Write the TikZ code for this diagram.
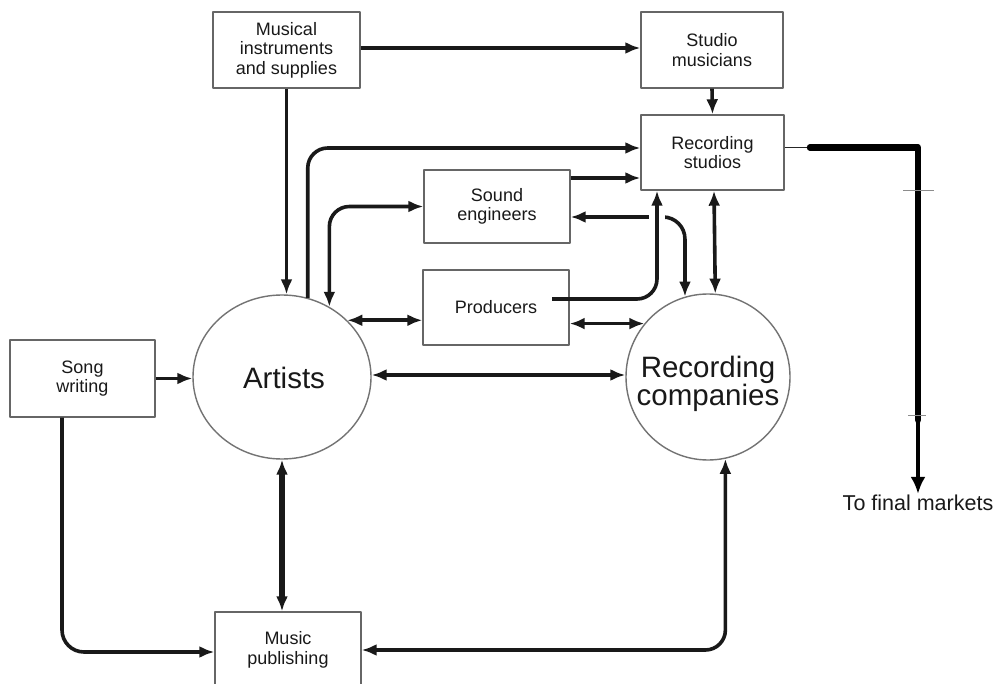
\documentclass[tikz,border=0pt]{standalone}
\usepackage{fontspec}
\setmainfont{Liberation Sans}
\usetikzlibrary{arrows.meta,shapes.geometric,calc}

\tikzset{
  box/.style={draw=black!60, line width=1.4pt, fill=white, align=center,
    minimum width=145pt, minimum height=75pt, inner sep=0pt,
    text=black!90, font=\fontsize{18}{19.5}\selectfont},
  hub/.style={draw=black!55, line width=1.4pt, fill=white, ellipse, inner sep=0pt},
  hubtext/.style={align=center, text=black!90, font=\fontsize{29.5}{28.5}\selectfont},
  tip/.tip={Latex[length=15pt,width=12pt]},
  flow/.style={draw=black!90, line width=3.6pt, -tip},
  both/.style={draw=black!90, line width=3.6pt, tip-tip},
  tick/.style={draw=black!45, line width=0.8pt}
}

\begin{document}
\begin{tikzpicture}[x=1pt,y=-1pt, line join=round]
\useasboundingbox (0,0) rectangle (998,684);
\clip (0,0) rectangle (998,684);
\fill[white] (0,0) rectangle (998,684);

% boxes
\node[box, minimum width=147pt, minimum height=76pt] (mus) at (286.5,50) {Musical\\instruments\\and supplies};
\node[box, minimum width=142pt, minimum height=76pt] (stm) at (712,50) {Studio\\musicians};
\node[box, minimum width=143pt] (rst) at (712.5,152.5) {Recording\\studios};
\node[box, minimum width=146pt, minimum height=73pt] (snd) at (497,206.5) {Sound\\engineers};
\node[box, minimum width=146pt] (prd) at (496,307.5) {Producers};
\node[box, minimum height=77pt] (song) at (82.5,378.5) {Song\\writing};
\node[box, minimum width=146pt, minimum height=76pt] (pub) at (288,650) {Music\\publishing};

% the two hubs
\node[hub, minimum width=178pt, minimum height=164pt] (art) at (282,377) {};
\node[hub, minimum width=164pt, minimum height=166pt] (rec) at (708,377) {};
\node[hubtext] (artt) at (284,378) {Artists};
\node[hubtext] (rect) at (708,384) {Recording\\companies};

% label at the end of the market line
\node[text=black!90, font=\fontsize{21.5}{24}\selectfont, inner sep=1pt] (fmk) at (918,503) {To final markets};

% supplies and studio musicians
\draw[flow] ($(mus.east)+(0,-2)$) -- ($(stm.west)+(0,-2)$);
\draw[flow] (stm.south) -- (rst.north);
\draw[flow] (mus.south) -- (mus.south |- art.north);

% artists to recording studios
\draw[flow, rounded corners=20pt] (art.72) |- ($(rst.west)+(0,-4.5)$);

% sound engineers to recording studios
\coordinate (p5) at ($(snd.east)+(0,-28.5)$);
\draw[flow] (p5) -- (p5 -| rst.west);

% artists and sound engineers
\draw[both, rounded corners=20pt] (snd.west) -| (art.56);

% artists and producers, producers and companies
\draw[both] (art.41.7) -- (art.41.7 -| prd.west);
\draw[both] (rec.140.6) -- (rec.140.6 -| prd.east);

% sound engineers and recording companies
\coordinate (p10) at ($(snd.east)+(0,10.5)$);
\draw[both, rounded corners=22pt] (p10) -| (rec.106.3);

% producers to recording studios, passing over the line above
\coordinate (p9) at ($(prd.center)+(56,-8.5)$);
\coordinate (q9) at ($(rst.south)+(-55.5,0)$);
\fill[white] (649,210) rectangle (665,224);
\draw[flow, rounded corners=20pt] (p9) -| (q9);

% recording studios and recording companies
\coordinate (p11) at ($(rst.south)+(1.5,0)$);
\draw[both] (p11) -- (rec.85.8);

% artists and recording companies
\draw[both] ($(art.east)+(0,-2)$) -- ($(rec.west)+(0,-2)$);

% song writing
\draw[flow] (song.east) -- (song.east -| art.west);
\coordinate (p14) at ($(song.south)+(-20.5,0)$);
\draw[flow, rounded corners=22pt] (p14) |- ($(pub.west)+(0,2)$);

% artists and music publishing
\draw[both, line width=5.5pt] (art.south) -- (art.south |- pub.north);

% recording companies and music publishing
\draw[both, rounded corners=20pt] (pub.east) -| (rec.-78);

% recording studios to the final markets
\coordinate (p17) at ($(rst.east)+(0,-5)$);
\coordinate (k1) at (810,147.5);
\coordinate (k2) at (918,147.5);
\draw[draw=black!85, line width=1.8pt] (p17) -- (k1);
\draw[draw=black, line width=6.5pt, line cap=round] (k1) -- (k2) -- (918,420);
\draw[draw=black, line width=4pt, -{Latex[length=17pt,width=15pt]}] (918,415) -- (fmk.north);
\draw[tick] (903,190) -- (934,190);
\draw[tick] (908,415) -- (926,415);
\end{tikzpicture}
\end{document}
